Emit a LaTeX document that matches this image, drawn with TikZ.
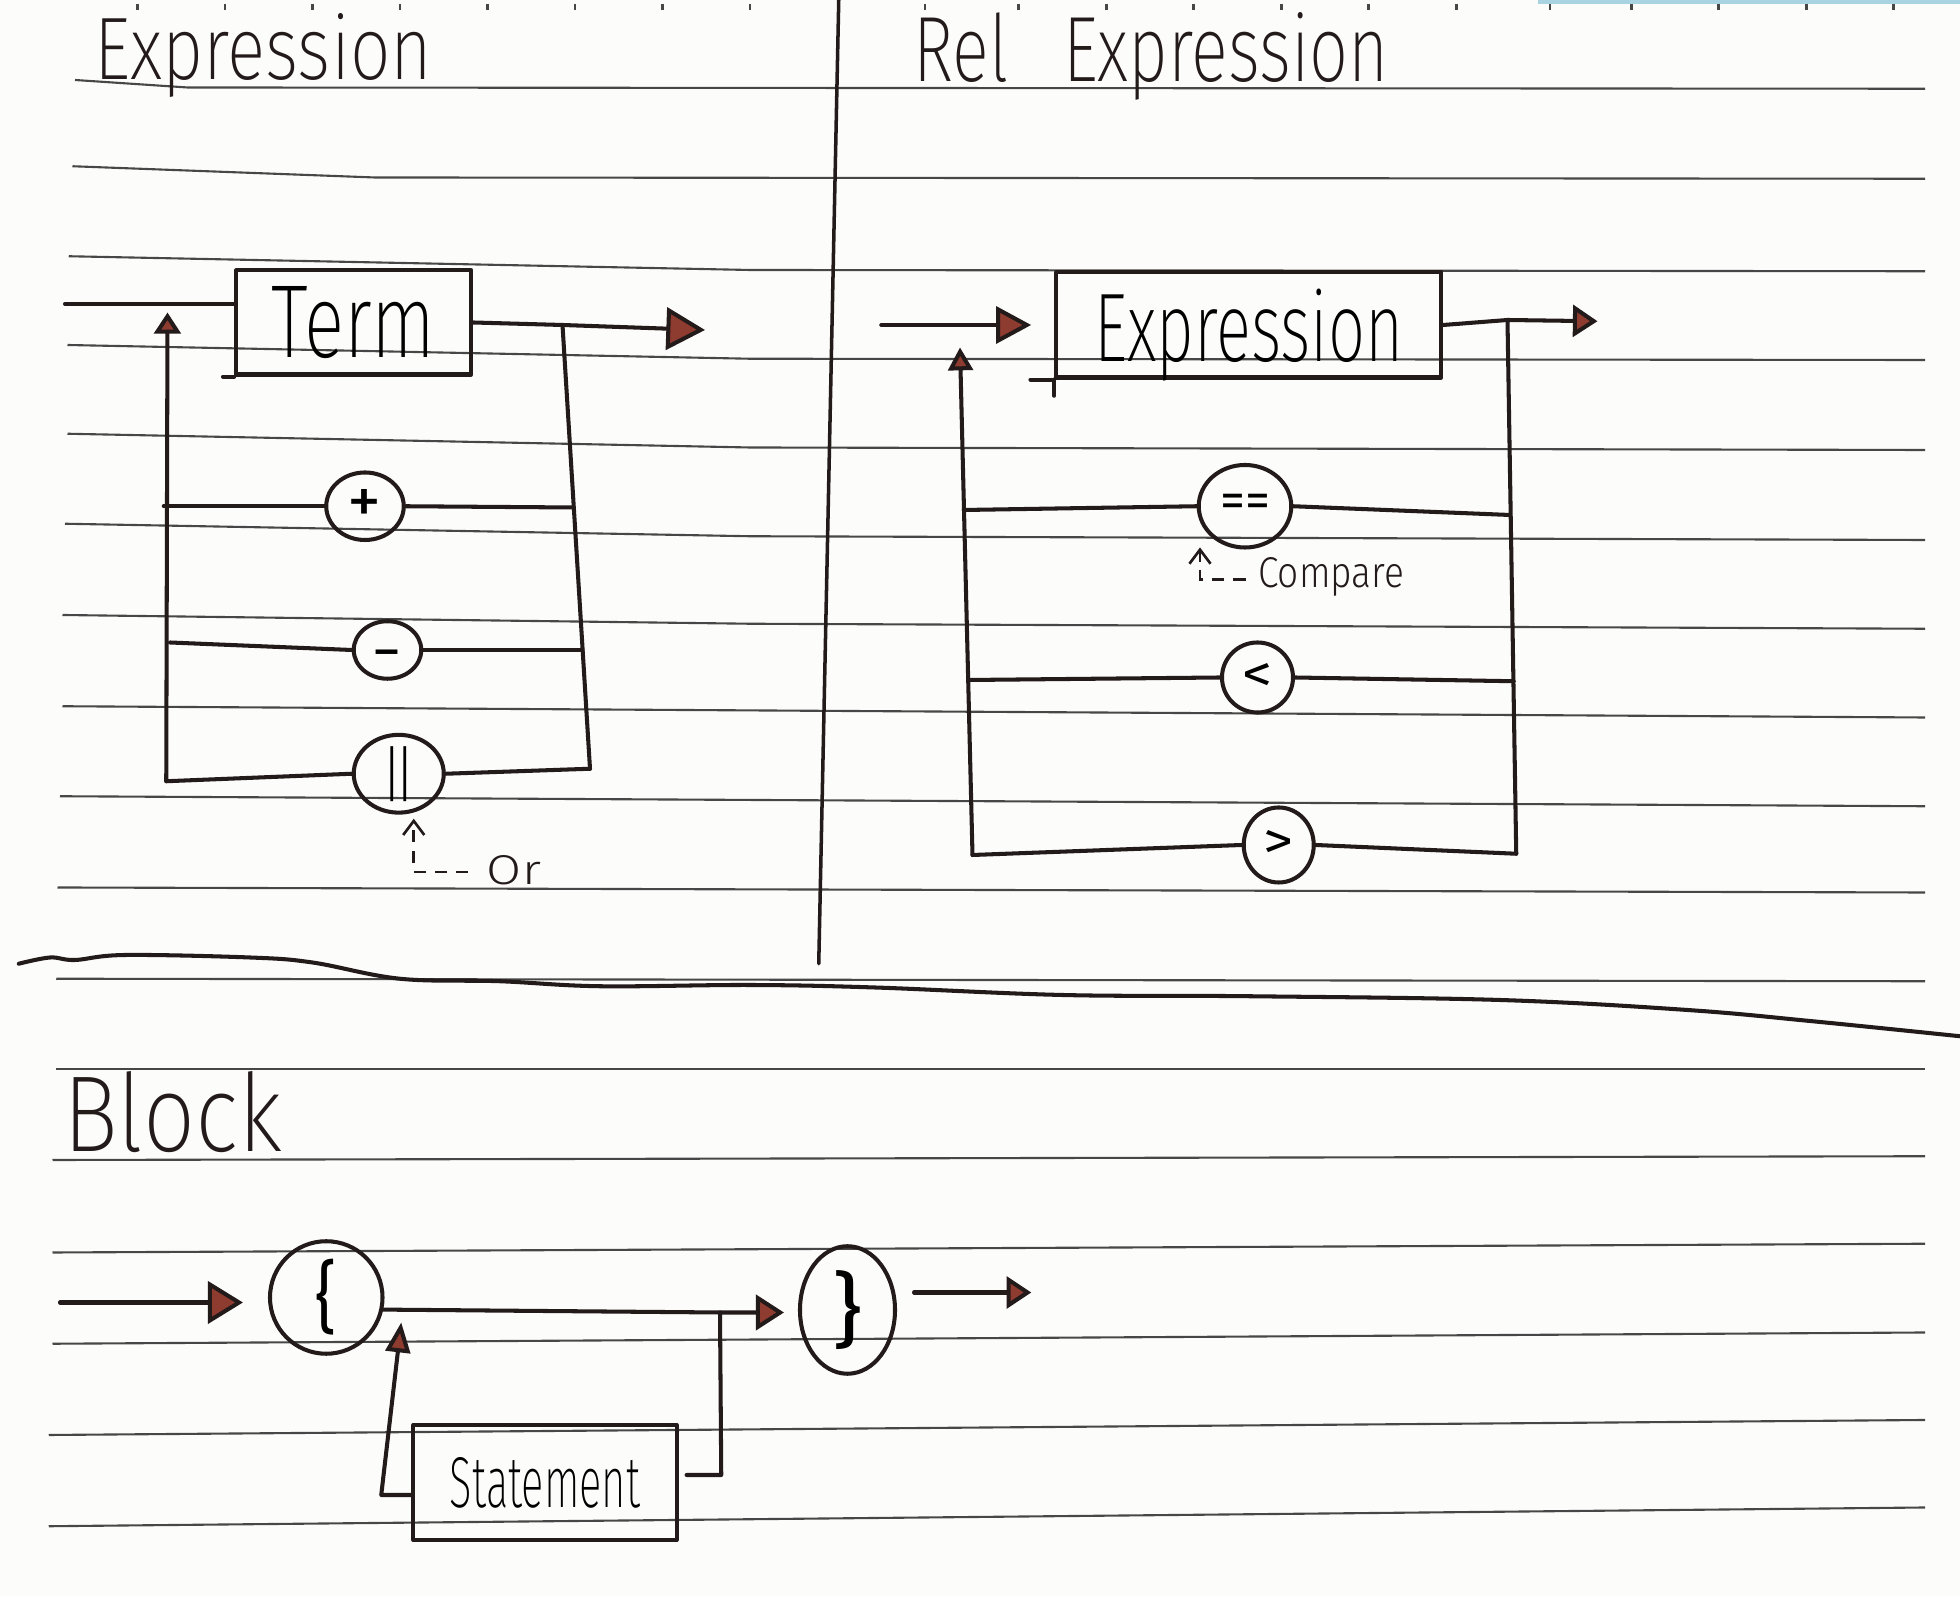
\documentclass[tikz,border=0pt]{standalone}
\usepackage{fontspec}
\newfontfamily\inkfont{Fira Sans ExtraLight}
\newfontfamily\inknote{Fira Sans Light}
\newfontfamily\inksymfont{Fira Sans}
\usetikzlibrary{arrows.meta,shapes.geometric}
\definecolor{ink}{HTML}{231A1A}
\definecolor{rule}{HTML}{474747}
\definecolor{tipred}{HTML}{8E3B30}
\definecolor{paper}{HTML}{FCFCFB}
\definecolor{edgeblue}{HTML}{A9D3E0}
% handwritten words: fixed width and height, no depth
\newcommand{\inkword}[3]{\raisebox{0pt}[\height][0pt]{\resizebox{#1}{#2}{\inkfont #3}}}
\newcommand{\inksmall}[3]{\raisebox{0pt}[\height][0pt]{\resizebox{#1}{#2}{\inknote #3}}}
% symbols inside the operator rings: fixed width and total height
\newcommand{\inksym}[3]{\resizebox*{#1}{#2}{\inksymfont #3}}
\newcommand{\inksymw}[2]{\resizebox{#1}{!}{\inksymfont #2}}

\begin{document}
\begin{tikzpicture}[x=0.0125cm, y=-0.0125cm,
  inkpen/.style={draw=ink, line width=1.15pt, line cap=round, line join=round},
  ruleline/.style={draw=rule, line width=0.6pt},
  termbox/.style={inkpen, rectangle, inner sep=0pt},
  opring/.style={inkpen, ellipse, inner sep=0pt},
  handtext/.style={inner sep=0pt, text=ink},
  tipto/.style 2 args={-{Triangle[length=#1,width=#2,fill=tipred]}},
  notearrow/.style={draw=ink, line width=0.75pt, dash pattern=on 3.5pt off 2.5pt,
    -{Straight Barb[length=4pt,width=6pt]}}]

\fill[paper] (0,0) rectangle (1568,1277);
\useasboundingbox (0,0) rectangle (1568,1277);

% ---- ruled paper ----
\fill[edgeblue] (1230,0) rectangle (1568,3);
\foreach \x in {110,180,250,320,390,460,530,600,740,815,885,955,1025,1095,1165,1240,1305,1375,1445,1515}
  \draw[rule, line width=0.8pt] (\x,3) -- (\x,8);
\draw[ruleline] (60,64) -- (150,70) -- (1540,71);
\draw[ruleline] (58,133) -- (300,142) -- (1540,143);
\draw[ruleline] (55,205) -- (600,216) -- (1540,217);
\draw[ruleline] (54,276) -- (600,287) -- (1540,288);
\draw[ruleline] (54,347) -- (600,358) -- (1540,360);
\draw[ruleline] (52,419) -- (600,429) -- (1540,432);
\draw[ruleline] (50,492) -- (600,499) -- (1540,503);
\draw[ruleline] (50,565) -- (1540,574);
\draw[ruleline] (48,637) -- (1540,645);
\draw[ruleline] (46,710) -- (1540,714);
\draw[ruleline] (45,783) -- (1540,785);
\draw[ruleline] (45,855) -- (1540,855);
\draw[ruleline] (42,928) -- (1540,925);
\draw[ruleline] (42,1002) -- (1540,995);
\draw[ruleline] (42,1075) -- (1540,1066);
\draw[ruleline] (39,1148) -- (1540,1136);
\draw[ruleline] (39,1221) -- (1540,1206);

% ---- pen dividers ----
\draw[inkpen, line width=1pt] (671,0) -- (655,771);
\draw[inkpen] plot[smooth, tension=0.6] coordinates {(15,771) (40,766) (60,768) (100,764) (200,766) (250,770) (320,783) (400,785) (480,789) (600,788) (700,790) (850,796) (1000,797) (1200,800) (1350,808) (1450,817) (1568,829)};

% ---- titles ----
\node[handtext, anchor=base west] (titleexpr) at (75,64) {\inkword{3.375cm}{0.66cm}{Expression}};
\node[handtext, anchor=base west] (titlerel) at (730,65) {\inkword{4.75cm}{0.69cm}{Rel\hspace{0.8em}Expression}};
\node[handtext, anchor=base west] (titleblock) at (50,921) {\inkword{2.19cm}{0.8cm}{Block}};

% ==== Expression ====
\node[termbox, minimum width=2.35cm, minimum height=1.04cm] (term) at (283,258) {\inkword{1.64cm}{0.71cm}{Term}};
\draw[inkpen] (term.south west) -- ++(-9,0);
\node[opring, minimum width=0.775cm, minimum height=0.675cm] (plus) at (292,405) {\inksym{0.34cm}{0.34cm}{+}};
\node[opring, minimum width=0.675cm, minimum height=0.575cm] (minus) at (310,520) {\raisebox{-0.22cm}[0pt][0pt]{\inksymw{0.29cm}{−}}};
\node[opring, minimum width=0.9cm, minimum height=0.775cm] (orop) at (319,619) {\inksym{0.27cm}{0.55cm}{||}};
\node[handtext, anchor=base west] (orlbl) at (389,708) {\inksmall{0.54cm}{0.29cm}{Or}};

\coordinate (eIn) at (52,243);
\coordinate (eJ) at (450,260);
\coordinate (eOut) at (564,264);
\coordinate (eBR) at (472,615);
\coordinate (eBL) at (133,625);
\coordinate (eTop) at (134,250);
\coordinate (eL1) at (131,405);
\coordinate (eR1) at (459,406);
\coordinate (eL2) at (136,514);
\coordinate (eR2) at (466,520);
\coordinate (orTip) at (331,655);

\draw[inkpen] (eIn) -- (eIn -| term.west);
\draw[inkpen, tipto={11pt}{12pt}] (term.east) -- (eJ) -- (eOut);
\draw[inkpen] (eJ) -- (eBR);
\draw[inkpen, tipto={6pt}{7.5pt}] (eBL) -- (eTop);
\draw[inkpen] (eL1) -- (plus.west);
\draw[inkpen] (plus.east) -- (eR1);
\draw[inkpen] (eL2) -- (minus.west);
\draw[inkpen] (minus.east) -- (eR2);
\draw[inkpen] (eBL) -- (orop.west);
\draw[inkpen] (orop.east) -- (eBR);
\draw[notearrow] ([shift={(-0.18cm,0.13cm)}]orlbl.base west) -| (orTip);

% ==== Rel Expression ====
\node[termbox, minimum width=3.85cm, minimum height=1.05cm] (rbox) at (999,260) {\inkword{3.09cm}{0.725cm}{Expression}};
\draw[inkpen] (rbox.south west) -- ++(0,13);
\draw[inkpen] (rbox.south west) -- ++(-19,0);
\node[opring, minimum width=0.925cm, minimum height=0.825cm] (eqop) at (996,405) {\inksymw{0.5cm}{==}};
\node[opring, minimum width=0.71cm, minimum height=0.7cm] (ltop) at (1006,542) {\inksym{0.3cm}{0.28cm}{<}};
\node[opring, minimum width=0.7cm, minimum height=0.75cm] (gtop) at (1023,676) {\inksym{0.3cm}{0.28cm}{>}};
\node[handtext, anchor=base west] (cmplbl) at (1006,470) {\inksmall{1.46cm}{0.3cm}{Compare}};

\coordinate (rIn) at (705,260);
\coordinate (rJ) at (1206,256);
\coordinate (rOut) at (1278,257);
\coordinate (rBR) at (1213,683);
\coordinate (rBL) at (778,684);
\coordinate (rTop) at (768,278);
\coordinate (rL1) at (771,408);
\coordinate (rR1) at (1208,412);
\coordinate (rL2) at (775,544);
\coordinate (rR2) at (1211,545);
\coordinate (eqTip) at (960,438);

\draw[inkpen, tipto={10pt}{10.5pt}, shorten >=0.23cm] (rIn) -- (rbox.west |- rIn);
\draw[inkpen, tipto={7pt}{9pt}] (rbox.east) -- (rJ) -- (rOut);
\draw[inkpen] (rJ) -- (rBR);
\draw[inkpen, tipto={6.5pt}{7pt}] (rBL) -- (rTop);
\draw[inkpen] (rL1) -- (eqop.west);
\draw[inkpen] (eqop.east) -- (rR1);
\draw[inkpen] (rL2) -- (ltop.west);
\draw[inkpen] (ltop.east) -- (rR2);
\draw[inkpen] (rBL) -- (gtop.west);
\draw[inkpen] (gtop.east) -- (rBR);
\draw[notearrow] ([shift={(-0.12cm,0.08cm)}]cmplbl.base west) -| (eqTip);

% ==== Block ====
\node[opring, minimum width=1.125cm, minimum height=1.125cm] (lbrace) at (261,1038) {\inksym{0.21cm}{0.76cm}{\{}};
\node[opring, minimum width=0.95cm, minimum height=1.275cm] (rbrace) at (678,1048) {\inksym{0.3cm}{0.79cm}{\}}};
\node[termbox, minimum width=2.63cm, minimum height=1.15cm] (stmt) at (436,1186) {\inkword{1.9cm}{0.5cm}{Statement}};

\coordinate (bIn) at (48,1042);
\coordinate (bJ) at (576,1050);
\coordinate (bR) at (577,1180);
\coordinate (bL) at (305,1196);
\coordinate (bUp) at (321,1058);
\coordinate (bOut) at (825,1034);

\draw[inkpen, tipto={10pt}{12pt}, shorten >=0.25cm] (bIn) -- (lbrace.west |- bIn);
\draw[inkpen, tipto={8pt}{10pt}, shorten >=0.14cm] (lbrace.-12) -- (bJ) -- (rbrace.west |- bJ);
\draw[inkpen, tipto={7pt}{9pt}, shorten <=0.17cm] (rbrace.east |- bOut) -- (bOut);
\draw[inkpen, shorten >=0.08cm] (bJ) -- (bR) -- (bR -| stmt.east);
\draw[inkpen, tipto={8.5pt}{7pt}] (stmt.west |- bL) -- (bL) -- (bUp);

\end{tikzpicture}
\end{document}
